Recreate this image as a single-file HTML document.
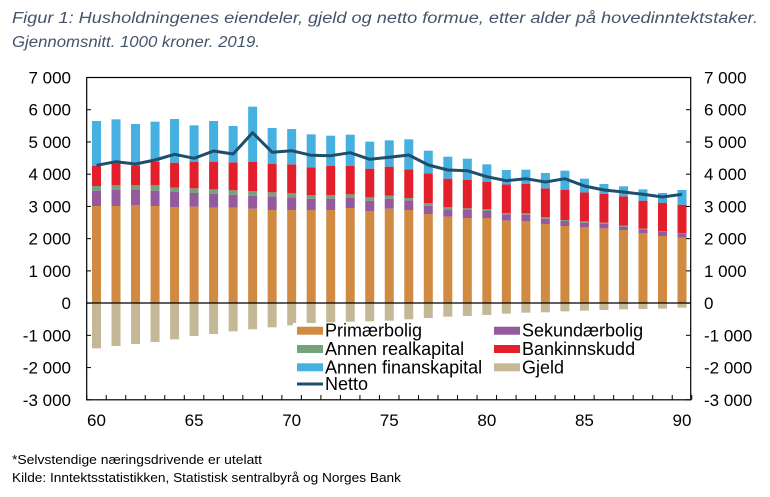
<!DOCTYPE html>
<html><head><meta charset="utf-8"><style>
body{margin:0;background:#fff;width:770px;height:497px;overflow:hidden}
svg{display:block}
text{font-family:"Liberation Sans",Arial,sans-serif}
</style></head><body>
<svg id="s" width="770" height="497" xmlns="http://www.w3.org/2000/svg">
<text x="12" y="23" font-size="15.5" font-style="italic" fill="#44546a" textLength="746" lengthAdjust="spacingAndGlyphs">Figur 1: Husholdningenes eiendeler, gjeld og netto formue, etter alder på hovedinntektstaker.</text>
<text x="12" y="47" font-size="15.5" font-style="italic" fill="#44546a" textLength="248" lengthAdjust="spacingAndGlyphs">Gjennomsnitt. 1000 kroner. 2019.</text>
<g id="bars"></g>
<g id="axes"></g>
<text x="12" y="464" font-size="13" fill="#000" textLength="250" lengthAdjust="spacingAndGlyphs">*Selvstendige næringsdrivende er utelatt</text>
<text x="12" y="482" font-size="13" fill="#000" textLength="389" lengthAdjust="spacingAndGlyphs">Kilde: Inntektsstatistikken, Statistisk sentralbyrå og Norges Bank</text>
</svg>
<script>
var d=[[318,272,258,198,63,745,196],[318,270,256,190,58,738,185],[316,270,255,196,72,732,192],[318,272,256,185,65,726,180],[321,276,263,188,57,718,163],[320,279,265,185,76,708,175],[323,281,268,185,63,702,153],[323,284,271,187,78,694,162],[326,287,273,185,20,688,98],[330,289,277,191,84,682,157],[330,292,280,193,87,676,152],[330,296,285,202,103,672,166],[330,296,285,197,107,667,167],[324,294,283,197,104,665,158],[333,302,292,206,125,664,178],[326,296,287,200,121,662,172],[330,301,294,208,118,658,165],[342,317,310,220,152,654,195],[350,328,322,236,170,650,210],[354,330,325,240,176,648,212],[354,333,328,245,193,645,230],[362,343,339,253,210,641,242],[363,344,340,251,209,638,236],[372,356,352,265,219,637,246],[378,363,360,269,212,634,236],[382,368,364,277,236,632,258],[385,371,368,282,252,630,270],[390,380,377,289,259,628,276],[400,388,386,302,268,627,283],[408,396,394,308,279,626,291],[413,402,400,314,270,623,283]];
var Z=303,cols=['#d08a41','#955a9e','#76a27b','#e21f2b','#46b1e1'];
var h='',pts=[];
function R(v){return 100+v/3}
d.forEach(function(r,i){var cx=96.5+i*19.517,x=cx-4.5;var prev=Z;
for(var k=0;k<5;k++){var t=R(r[k]);h+='<rect x="'+x+'" y="'+t+'" width="9" height="'+(prev-t)+'" fill="'+cols[k]+'"/>';prev=t;}
var b=R(r[5]);h+='<rect x="'+x+'" y="'+Z+'" width="9" height="'+(b-Z)+'" fill="#c4b896"/>';
pts.push(cx.toFixed(1)+','+R(r[6]).toFixed(1));});
h+='<polyline points="'+pts.join(' ')+'" fill="none" stroke="#1f4e6b" stroke-width="3" stroke-linejoin="round"/>';
document.getElementById('bars').innerHTML=h;
var a='<rect x="86.7" y="77.5" width="604" height="322.3" fill="none" stroke="#000" stroke-width="1.2"/>';
a+='<line x1="86.7" x2="690.7" y1="'+Z+'" y2="'+Z+'" stroke="#000" stroke-width="1.2"/>';
var lab=['7 000','6 000','5 000','4 000','3 000','2 000','1 000','0','-1 000','-2 000','-3 000'];
for(var j=0;j<11;j++){var y=77.5+j*32.23;
a+='<line x1="86.7" x2="91" y1="'+y+'" y2="'+y+'" stroke="#000"/><line x1="686" x2="690.7" y1="'+y+'" y2="'+y+'" stroke="#000"/>';
a+='<text x="71" y="'+(y+6)+'" font-size="17" text-anchor="end">'+lab[j]+'</text>';
a+='<text x="704" y="'+(y+6)+'" font-size="17">'+lab[j]+'</text>';}
for(var i=0;i<=31;i++){var x=86.7+i*19.517;a+='<line x1="'+x+'" x2="'+x+'" y1="395" y2="399.8" stroke="#000"/>';}
for(var i=0;i<=6;i++){a+='<text x="'+(96.5+i*5*19.517)+'" y="426" font-size="17" text-anchor="middle">'+(60+i*5)+'</text>';}
a+='<rect x="293" y="323" width="372" height="70" fill="#fff"/>';
var L=[['Primærbolig',cols[0],297,330.7],['Annen realkapital',cols[2],297,349],['Annen finanskapital',cols[4],297,367.3],['Sekundærbolig',cols[1],494,330.7],['Bankinnskudd',cols[3],494,349],['Gjeld','#c4b896',494,367.3]];
L.forEach(function(l){a+='<rect x="'+l[2]+'" y="'+(l[3]-4)+'" width="26" height="8" fill="'+l[1]+'"/><text x="'+(l[2]+28)+'" y="'+(l[3]+6)+'" font-size="18">'+l[0]+'</text>';});
a+='<line x1="297" x2="323" y1="384" y2="384" stroke="#1f4e6b" stroke-width="3"/><text x="325" y="390" font-size="18">Netto</text>';
document.getElementById('axes').innerHTML=a;
</script>
</body></html>
